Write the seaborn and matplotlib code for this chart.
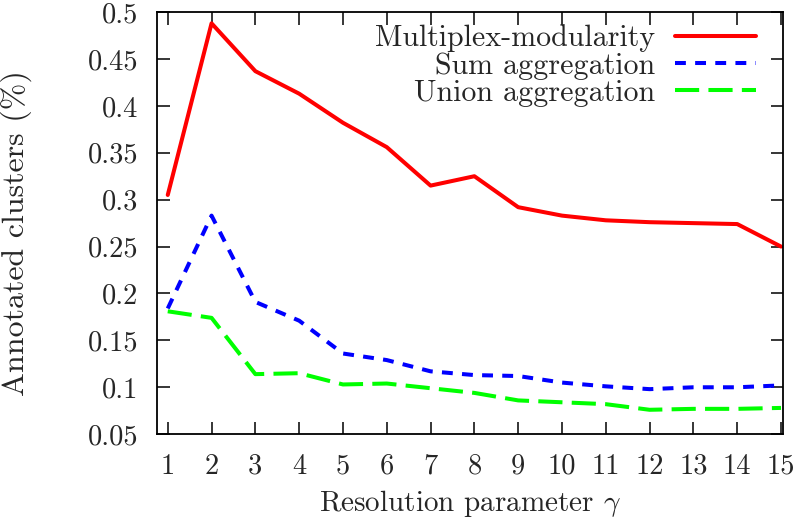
import seaborn as sns
import pandas as pd
import numpy as np
import matplotlib.pyplot as plt

# values
gamma = list(range(1, 16))
multiplex = [0.305, 0.488, 0.437, 0.413, 0.382, 0.356, 0.315, 0.325,
             0.292, 0.283, 0.278, 0.276, 0.275, 0.274, 0.250]
sum_agg = [0.184, 0.283, 0.191, 0.171, 0.136, 0.129, 0.117, 0.113,
           0.112, 0.105, 0.101, 0.098, 0.100, 0.100, 0.102]
union_agg = [0.181, 0.174, 0.114, 0.115, 0.103, 0.104, 0.099, 0.094,
             0.086, 0.084, 0.082, 0.076, 0.077, 0.077, 0.078]
series_names = ["Multiplex-modularity", "Sum aggregation", "Union aggregation"]
yticks = [0.05, 0.1, 0.15, 0.2, 0.25, 0.3, 0.35, 0.4, 0.45, 0.5]

df = pd.DataFrame({
    "gamma": gamma * 3,
    "value": multiplex + sum_agg + union_agg,
    "series": np.repeat(series_names, len(gamma)),
})

sns.set_style("ticks")
plt.rcParams['font.family'] = ['cmr10']
plt.rcParams['mathtext.fontset'] = 'cm'
plt.rcParams['axes.formatter.use_mathtext'] = True
plt.rcParams['axes.unicode_minus'] = False

fig = plt.figure(figsize=(8, 5.25), dpi=100)
ax = fig.add_axes([0.196, 0.173, 0.783, 0.804])

palette = {series_names[0]: "#ff0000", series_names[1]: "#0000ff", series_names[2]: "#00ff00"}
dashes = {series_names[0]: "", series_names[1]: (2.7, 2.3), series_names[2]: (6, 2.3)}

sns.lineplot(data=df, x="gamma", y="value", hue="series", style="series",
             palette=palette, dashes=dashes, linewidth=2.9, ax=ax)

ax.set_xlim(0.75, 15.05)
ax.set_ylim(0.05, 0.5)
ax.set_xticks(gamma)
ax.set_xticklabels([str(g) for g in gamma])
ax.set_yticks(yticks)
ax.set_yticklabels(["%g" % t for t in yticks])
ax.tick_params(direction="in", length=9, width=1.1, labelsize=20.5,
               top=True, right=True, color="black")
ax.tick_params(axis="y", pad=13)
ax.tick_params(axis="x", pad=14)
for sp in ax.spines.values():
    sp.set_linewidth(1.3)
    sp.set_color("black")

ax.set_xlabel(r"Resolution parameter $\gamma$", fontsize=21, labelpad=6)
ax.set_ylabel("Annotated clusters (%)", fontsize=23)
ax.yaxis.set_label_coords(-0.199, 0.476)

handles, labels = ax.get_legend_handles_labels()
ax.legend(handles, labels, loc="upper right", frameon=False, markerfirst=False,
          fontsize=21.6, handlelength=2.7, handletextpad=0.65, labelspacing=0.0,
          borderaxespad=0.0, bbox_to_anchor=(0.975, 1.0))

plt.savefig("out.png", dpi=100)
plt.close()
